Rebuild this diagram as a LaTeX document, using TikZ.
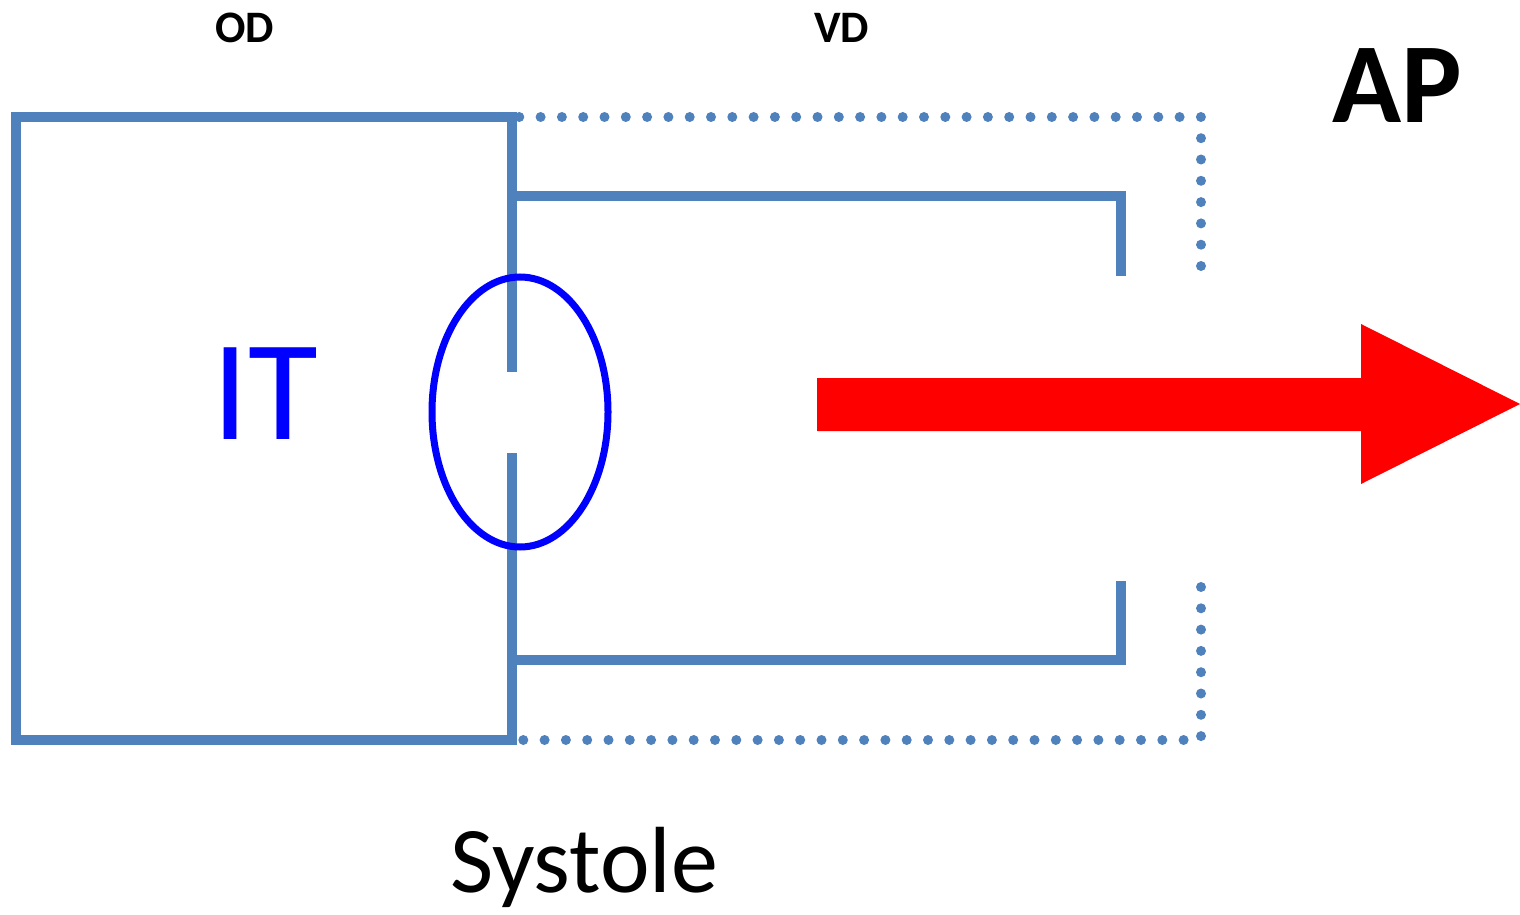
\documentclass[tikz,border=0pt]{standalone}
\usepackage{fontspec}
\setmainfont{Carlito}
\usetikzlibrary{shapes.geometric}
\definecolor{wallblue}{RGB}{79,129,189}
\definecolor{valveblue}{RGB}{0,0,255}
\definecolor{flowred}{RGB}{255,0,0}
\tikzset{
  wall/.style={draw=wallblue, line width=10pt, line cap=butt, line join=miter},
  dotwall/.style={draw=wallblue, line width=10pt, line cap=round, dash pattern=on 0pt off 21.3pt},
  lbl/.style={anchor=base, inner sep=0pt, outer sep=0pt},
}
\begin{document}
\begin{tikzpicture}[x=1pt, y=-1pt]
\useasboundingbox (0,0) rectangle (1520,915);
% labels
\node[lbl] (od) at (244.5,43) {\fontsize{45}{50}\selectfont\bfseries OD};
\node[lbl] (vd) at (841.5,43) {\fontsize{45}{50}\selectfont\bfseries VD};
\node[lbl] (ap) at (1397,123) {\fontsize{114}{120}\selectfont\bfseries AP};
\node[lbl, text=valveblue] (it) at (265,439) {\fontsize{143}{150}\selectfont IT};
\node[lbl] (sys) at (584,892) {\fontsize{94}{100}\selectfont Systole};
% atrium box
\draw[wall] (512,117) -- (16,117) -- (16,740) -- (512,740);
% septum with opening
\draw[wall] (512,112) -- (512,372);
\draw[wall] (512,453) -- (512,745);
% ventricle inner walls
\draw[wall] (512,196) -- (1121,196) -- (1121,276);
\draw[wall] (512,660) -- (1121,660) -- (1121,581);
% dotted outer walls
\draw[dotwall] (1201,266) -- (1201,117) -- (512,117);
\draw[dotwall] (1201,587) -- (1201,740) -- (512,740);
% valve ellipse
\node[draw=valveblue, line width=7pt, ellipse, minimum width=176pt, minimum height=270pt, inner sep=0pt] (valve) at (520,412) {};
% flow arrow
\fill[flowred] (817,378) -- (1361,378) -- (1361,324) -- (1520,404) -- (1361,484) -- (1361,431) -- (817,431) -- cycle;
\end{tikzpicture}
\end{document}
